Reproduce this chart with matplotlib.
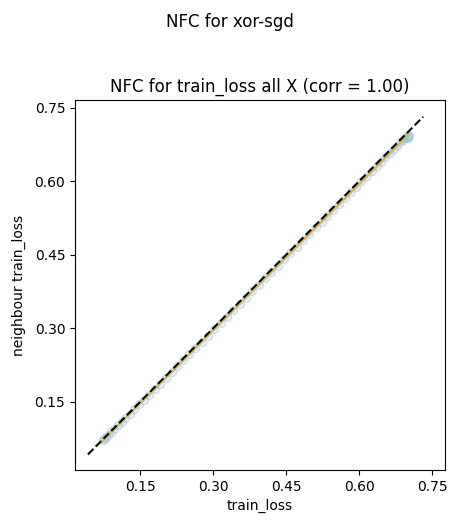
import numpy as np
import matplotlib
matplotlib.use('Agg')
import matplotlib.pyplot as plt
from matplotlib.ticker import MultipleLocator

train_loss = [0.073, 0.076, 0.080, 0.085, 0.091, 0.097, 0.104, 0.112, 0.120, 0.129,
              0.138, 0.148, 0.158, 0.169, 0.180, 0.191, 0.203, 0.215, 0.227, 0.239,
              0.251, 0.264, 0.277, 0.290, 0.303, 0.316, 0.329, 0.342, 0.355, 0.368,
              0.381, 0.394, 0.407, 0.420, 0.433, 0.446, 0.459, 0.472, 0.485, 0.498,
              0.511, 0.523, 0.535, 0.547, 0.559, 0.571, 0.583, 0.594, 0.605, 0.616,
              0.626, 0.636, 0.645, 0.654, 0.663, 0.671, 0.678, 0.685, 0.690, 0.695,
              0.698, 0.700, 0.701, 0.702]
neighbour_loss = [0.073, 0.075, 0.079, 0.083, 0.089, 0.095, 0.102, 0.109, 0.117, 0.126,
                  0.135, 0.145, 0.155, 0.165, 0.176, 0.187, 0.199, 0.211, 0.223, 0.235,
                  0.247, 0.260, 0.272, 0.285, 0.298, 0.311, 0.324, 0.337, 0.350, 0.363,
                  0.376, 0.389, 0.402, 0.415, 0.428, 0.441, 0.454, 0.467, 0.480, 0.493,
                  0.506, 0.518, 0.530, 0.542, 0.554, 0.566, 0.578, 0.589, 0.600, 0.611,
                  0.621, 0.631, 0.640, 0.649, 0.658, 0.666, 0.673, 0.680, 0.684, 0.689,
                  0.690, 0.694, 0.688, 0.692]

x = np.array(train_loss)
y = np.array(neighbour_loss)
corr = np.corrcoef(x, y)[0, 1]

fig = plt.figure(figsize=(4.59, 5.25), dpi=100)
ax = fig.add_axes([75 / 459, 55 / 525, 370 / 459, 370 / 525])
fig.suptitle('NFC for xor-sgd', y=0.975)

ax.scatter(x, y, s=34, color='#9ecae1', alpha=0.3, edgecolors='#5aa8d8', linewidths=0.8)
slope, inter = np.polyfit(x, y, 1)
ax.plot(x, slope * x + inter, color='#d8b86a', lw=2.0)

lo = min(x.min(), y.min()) - 0.03
hi = max(x.max(), y.max()) + 0.03
ax.plot([lo, hi], [lo, hi], 'k--', lw=1.5)

ax.set_xlim(0.0164, 0.7767)
ax.set_ylim(0.0112, 0.766)
ax.xaxis.set_major_locator(MultipleLocator(0.15))
ax.yaxis.set_major_locator(MultipleLocator(0.15))
ax.set_xlabel('train_loss')
ax.set_ylabel('neighbour train_loss', labelpad=6)
ax.set_title(f'NFC for train_loss all X (corr = {corr:.2f})')

fig.savefig('out.png', dpi=100)
